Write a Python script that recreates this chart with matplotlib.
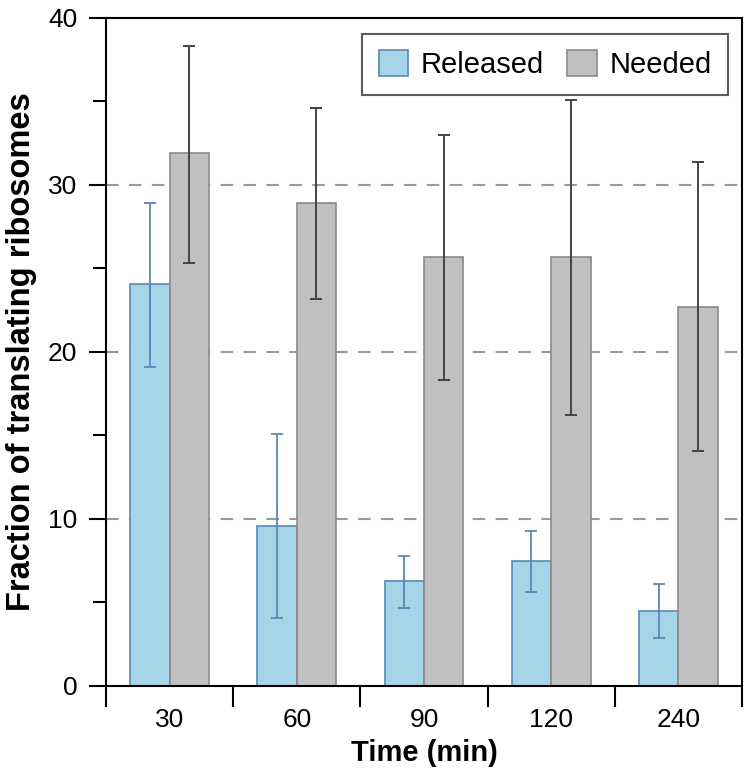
import matplotlib
matplotlib.use("Agg")
import matplotlib.pyplot as plt
import numpy as np
from matplotlib.ticker import MultipleLocator, FixedLocator

plt.rcParams['font.family'] = ['Liberation Sans', 'DejaVu Sans']

times = ["30", "60", "90", "120", "240"]
released = [24.1, 9.6, 6.3, 7.5, 4.5]
released_hi = [28.9, 15.1, 7.8, 9.3, 6.1]
released_lo = [19.1, 4.1, 4.7, 5.6, 2.9]
needed = [31.9, 28.9, 25.7, 25.7, 22.7]
needed_hi = [38.3, 34.6, 33.0, 35.1, 31.4]
needed_lo = [25.3, 23.2, 18.3, 16.2, 14.1]

fig = plt.figure(figsize=(7.51, 7.72), dpi=100)
ax = fig.add_axes([0.1411, 0.1114, 0.8469, 0.8653])

x = np.arange(len(times))
w = 0.31

r = np.array(released); n = np.array(needed)
rerr = [r - np.array(released_lo), np.array(released_hi) - r]
nerr = [n - np.array(needed_lo), np.array(needed_hi) - n]

for y in [10, 20, 30]:
    ax.axhline(y, color='#999999', lw=1.5, dashes=(6, 5), zorder=0)

ax.bar(x - w/2, r, w, color='#a6d5ea', edgecolor='#5a88b5', lw=1.2,
       label='Released', zorder=2)
ax.bar(x + w/2, n, w, color='#c0c0c0', edgecolor='#8a8a8a', lw=1.2,
       label='Needed', zorder=2)
ax.errorbar(x - w/2, r, yerr=rerr, fmt='none', ecolor='#5a88b5',
            elinewidth=1.3, capsize=4, capthick=1.3, zorder=3)
ax.errorbar(x + w/2, n, yerr=nerr, fmt='none', ecolor='#444444',
            elinewidth=1.4, capsize=4, capthick=1.4, zorder=3)

ax.set_xlim(-0.5, len(times) - 0.5)
ax.set_ylim(0, 40)
ax.set_xticks(x)
ax.set_xticklabels(times)
ax.xaxis.set_minor_locator(FixedLocator(np.arange(-0.5, len(times), 1.0)))
ax.tick_params(axis='x', which='major', length=0, labelsize=19, pad=16)
ax.tick_params(axis='x', which='minor', length=15, width=1.5, direction='out')
ax.yaxis.set_major_locator(MultipleLocator(10))
ax.yaxis.set_minor_locator(MultipleLocator(5))
ax.tick_params(axis='y', which='major', length=12.5, width=1.5, labelsize=19, pad=8)
ax.tick_params(axis='y', which='minor', length=9.5, width=1.5)

for s in ax.spines.values():
    s.set_linewidth(1.5)

ax.set_xlabel('Time (min)', fontsize=21, fontweight='bold', labelpad=5)
ax.set_ylabel('Fraction of translating ribosomes', fontsize=23.5, fontweight='bold', labelpad=8)

leg = ax.legend(loc='upper right', ncol=2, fontsize=21, frameon=True, fancybox=False,
                edgecolor='#333333', handlelength=1.0, handleheight=1.0,
                columnspacing=0.8, handletextpad=0.45, borderpad=0.55,
                borderaxespad=0, bbox_to_anchor=(0.978, 0.976))
leg.get_frame().set_linewidth(1.5)

fig.savefig('out.png', dpi=100)
